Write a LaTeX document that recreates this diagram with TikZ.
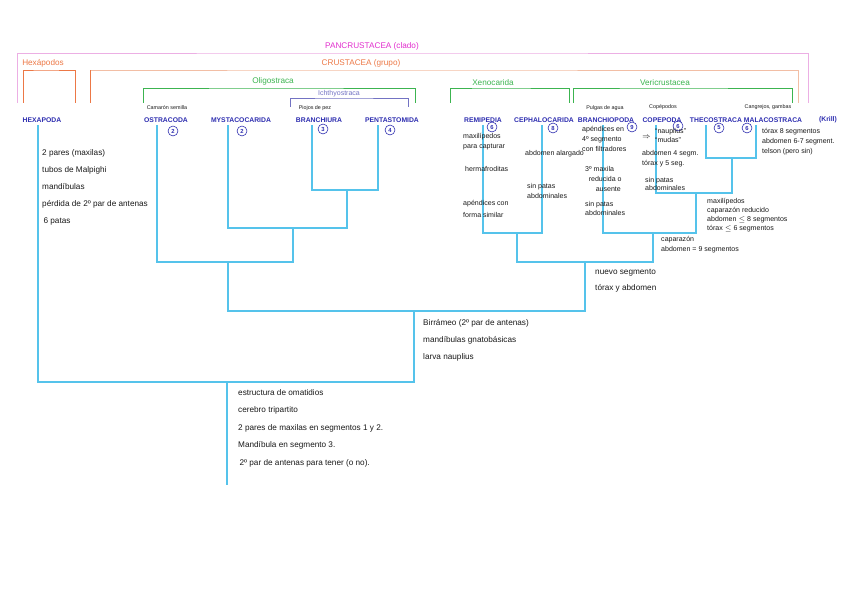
\documentclass[tikz,border=0pt]{standalone}
\usepackage{fontspec}
\setmainfont{Liberation Sans}
\usepackage{amssymb}
\usepackage{amsmath}
\usepackage{tikz}

\definecolor{azul}{RGB}{45,45,175}
\definecolor{celeste}{RGB}{85,195,235}
\definecolor{rosa}{RGB}{236,175,228}
\definecolor{rosaT}{RGB}{225,45,205}
\definecolor{naranja}{RGB}{236,120,70}
\definecolor{naranjaC}{RGB}{242,190,165}
\definecolor{verde}{RGB}{60,180,80}
\definecolor{morado}{RGB}{115,115,195}
\definecolor{tinta}{RGB}{25,25,25}

\tikzset{
  grupo/.style={anchor=south, inner xsep=1pt, inner ysep=2pt, font=\fontsize{7}{8}\selectfont},
  taxon/.style={text=azul, inner sep=1pt, font=\fontsize{5.8}{6}\selectfont\bfseries},
  nota/.style={text=tinta, inner sep=0.5pt, font=\fontsize{4.6}{5}\selectfont},
  num/.style={circle, draw=azul, text=azul, line width=0.5pt, inner sep=0pt, minimum size=8.5pt, font=\fontsize{5}{5}\selectfont\bfseries},
  txt/.style={anchor=north west, align=left, inner sep=0pt, text=tinta, font=\fontsize{7}{#1}\selectfont},
  chico/.style={anchor=north west, align=left, inner sep=0pt, text=tinta, font=\fontsize{6}{#1}\selectfont},
  rama/.style={draw=celeste, line width=1.4pt},
  llave/.style={line width=0.8pt}
}

\begin{document}
\begin{tikzpicture}[x=0.03cm, y=-0.03cm]
\useasboundingbox (0,0) rectangle (848,601);

\draw (372,53) node[grupo, text=rosaT] (pan) {PANCRUSTACEA (clado)} ;
\draw (43,70) node[grupo, text=naranja] (hexg) {Hexápodos} ;
\draw (361,70) node[grupo, text=naranja] (crus) {CRUSTACEA (grupo)} ;
\draw (273,88) node[grupo, text=verde] (oligo) {Oligostraca} ;
\draw (339,98) node[grupo, text=morado, inner ysep=0.8pt, font=\fontsize{6}{7}\selectfont] (ichthy) {Ichthyostraca} ;
\draw (493,88) node[grupo, text=verde] (xeno) {Xenocarida} ;
\draw (665,88) node[grupo, text=verde] (veri) {Vericrustacea} ;

\coordinate (panL) at (17,103) ;   \coordinate (panR) at (808,103) ;
\coordinate (hexgL) at (23,103) ;  \coordinate (hexgR) at (75,103) ;
\coordinate (crusL) at (90,103) ;  \coordinate (crusR) at (798,103) ;
\coordinate (oligoL) at (143,103) ; \coordinate (oligoR) at (415,103) ;
\coordinate (ichthyL) at (290,107) ; \coordinate (ichthyR) at (408,107) ;
\coordinate (xenoL) at (450,103) ; \coordinate (xenoR) at (569,103) ;
\coordinate (veriL) at (573,103) ; \coordinate (veriR) at (792,103) ;

\draw[llave, rosa] (panL) |- (pan.south) -| (panR) ;
\draw[llave, naranja] (hexgL) |- (hexg.south) -| (hexgR) ;
\draw[llave, naranjaC] (crusL) |- (crus.south) -| (crusR) ;
\draw[llave, naranja] (crusL) -- ++(0,-33) ;
\draw[llave, verde] (oligoL) |- (oligo.south) -| (oligoR) ;
\draw[llave, morado] (ichthyL) |- (ichthy.south) -| (ichthyR) ;
\draw[llave, verde] (xenoL) |- (xeno.south) -| (xenoR) ;
\draw[llave, verde] (veriL) |- (veri.south) -| (veriR) ;

\draw (167,108) node[nota] (ostraNota) {Camarón semilla} ;
\draw (315,108) node[nota] (branNota) {Piojos de pez} ;
\draw (605,108) node[nota] (bpodNota) {Pulgas de agua} ;
\draw (663,107) node[nota] (copeNota) {Copépodos} ;
\draw (768,107) node[nota] (malaNota) {Cangrejos, gambas} ;

\draw (42,120) node[taxon] (hexa) {HEXAPODA} ;
\draw (166,120) node[taxon] (ostra) {OSTRACODA} ;
\draw (241,120) node[taxon] (mysta) {MYSTACOCARIDA} ;
\draw (319,120) node[taxon] (bran) {BRANCHIURA} ;
\draw (392,120) node[taxon] (penta) {PENTASTOMIDA} ;
\draw (483,120) node[taxon] (remi) {REMIPEDIA} ;
\draw (544,120) node[taxon] (cepha) {CEPHALOCARIDA} ;
\draw (606,120) node[taxon] (bpod) {BRANCHIOPODA} ;
\draw (662,120) node[taxon] (cope) {COPEPODA} ;
\draw (716,120) node[taxon] (thec) {THECOSTRACA} ;
\draw (773,120) node[taxon] (mala) {MALACOSTRACA} ;
\draw (828,120) node[taxon] (malaX) {(Krill)} ;

\draw (173,131) node[num] (ostraN) {2} ;
\draw (242,131) node[num] (mystaN) {2} ;
\draw (323,129) node[num] (branN) {3} ;
\draw (390,130) node[num] (pentaN) {4} ;
\draw (492,127) node[num] (remiN) {6} ;
\draw (553,128) node[num] (cephaN) {8} ;
\draw (632,127) node[num] (bpodN) {9} ;
\draw (678,126) node[num] (copeN) {6} ;
\draw (719,128) node[num] (thecN) {5} ;
\draw (747,128) node[num] (malaN) {6} ;

\coordinate (hexaT) at (38,125) ;
\coordinate (ostraT) at (157,125) ;
\coordinate (mystaT) at (228,125) ;
\coordinate (branT) at (312,125) ;
\coordinate (pentaT) at (378,125) ;
\coordinate (remiT) at (483,125) ;
\coordinate (cephaT) at (542,125) ;
\coordinate (bpodT) at (603,125) ;
\coordinate (copeT) at (656,125) ;
\coordinate (thecT) at (706,125) ;
\coordinate (malaT) at (756,125) ;

\coordinate (nIch) at (347,190) ;
\coordinate (nOli2) at (293,228) ;
\coordinate (nOli) at (228,262) ;
\coordinate (nXeno) at (517,233) ;
\coordinate (nThMa) at (732,158) ;
\coordinate (nMulti) at (696,193) ;
\coordinate (nVeri) at (653,233) ;
\coordinate (nAlto) at (585,262) ;
\coordinate (nCrus) at (414,311) ;
\coordinate (nPan) at (227,382) ;
\coordinate (raiz) at (227,485) ;

\draw[rama]
      (branT) |- (nIch) -| (pentaT)
      (mystaT) |- (nOli2) -| (nIch)
      (ostraT) |- (nOli) -| (nOli2)

      (remiT) |- (nXeno) -| (cephaT)
      (thecT) |- (nThMa) -| (malaT)
      (copeT) |- (nMulti) -| (nThMa)
      (bpodT) |- (nVeri) -| (nMulti)
      (nXeno) |- (nAlto) -| (nVeri)

      (nOli) |- (nCrus) -| (nAlto)
      (hexaT) |- (nPan) -| (nCrus)
      (nPan) -- (raiz) ;

\draw (42,149) node[txt=14.5] (hexaTxt) {2 pares (maxilas)\\tubos de Malpighi\\mandíbulas\\pérdida de 2º par de antenas\\ \,6 patas} ;

\draw (463,133) node[chico=8.5] (remiTxt1) {maxilípedos\\para capturar} ;
\draw (465,166) node[chico=8.5] (remiTxt2) {hermafroditas} ;
\draw (463,200) node[chico=10] (remiTxt3) {apéndices con\\forma similar} ;
\draw (525,150) node[chico=8.5] (cephaTxt1) {abdomen alargado} ;
\draw (527,183) node[chico=8.5] (cephaTxt2) {sin patas\\abdominales} ;

\draw (582,126) node[chico=8.5] (bpodTxt1) {apéndices en\\4º segmento\\con filtradores} ;
\draw (585,166) node[chico=8.5] (bpodTxt2) {3º maxila\\ \hspace{3pt}reducida o\\ \hspace{9pt}ausente} ;
\draw (585,201) node[chico=8] (bpodTxt3) {sin patas\\abdominales} ;

\draw (642,137) node[chico=8, anchor=west] (copeFlecha) {$\Rightarrow$} ;
\draw (655,128) node[chico=8] (copeTxt1) {“nauplius”\\“mudas”} ;
\draw (642,150) node[chico=8.5] (copeTxt2) {abdomen 4 segm.\\tórax y 5 seg.} ;
\draw (645,177) node[chico=7] (copeTxt3) {sin patas\\abdominales} ;

\draw (762,128) node[chico=8.5] (malaTxt) {tórax 8 segmentos\\abdomen 6-7 segment.\\telson (pero sin)} ;
\draw (707,198) node[chico=7.8] (multiTxt) {maxilípedos\\caparazón reducido\\abdomen $\leq$ 8 segmentos\\tórax $\leq$ 6 segmentos} ;
\draw (661,236) node[chico=8.5] (veriTxt) {caparazón\\abdomen = 9 segmentos} ;
\draw (595,269) node[txt=13.6] (altoTxt) {nuevo segmento\\tórax y abdomen} ;
\draw (423,319) node[txt=14.5] (crusTxt) {Birrámeo (2º par de antenas)\\mandíbulas gnatobásicas\\larva nauplius} ;
\draw (238,389) node[txt=15] (panTxt) {estructura de omatidios\\cerebro tripartito\\2 pares de maxilas en segmentos 1 y 2.\\Mandíbula en segmento 3.\\ \,2º par de antenas para tener (o no).} ;
\end{tikzpicture}
\end{document}
